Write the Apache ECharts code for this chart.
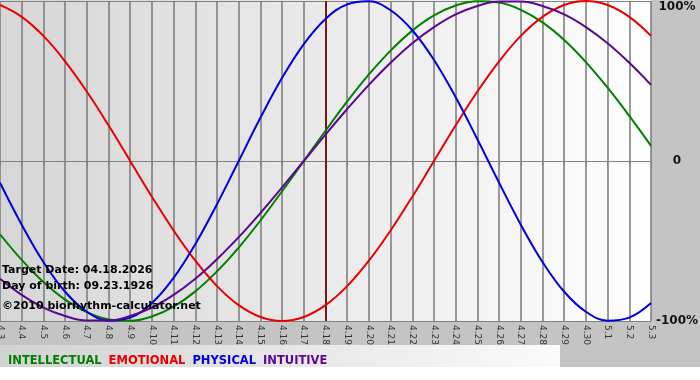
<!DOCTYPE html>
<html>
<head>
<meta charset="utf-8">
<script src="https://cdn.jsdelivr.net/npm/echarts@6/dist/echarts.min.js"></script>
<style>
html,body{margin:0;padding:0;background:#fff;}
#chart{width:700px;height:380px;}
</style>
</head>
<body>
<div id="chart"></div>
<script>
const days = ['4.3','4.4','4.5','4.6','4.7','4.8','4.9','4.10','4.11','4.12','4.13','4.14','4.15','4.16','4.17','4.18','4.19','4.20','4.21','4.22','4.23','4.24','4.25','4.26','4.27','4.28','4.29','4.30','5.1','5.2','5.3'];
const intellectual = [-0.458,-0.618,-0.756,-0.866,-0.945,-0.990,-0.999,-0.972,-0.910,-0.815,-0.690,-0.541,-0.372,-0.189,0,0.189,0.372,0.541,0.690,0.815,0.910,0.972,0.999,0.990,0.945,0.866,0.756,0.618,0.458,0.282,0.095];
const emotional = [0.975,0.901,0.782,0.623,0.434,0.223,0,-0.223,-0.434,-0.623,-0.782,-0.901,-0.975,-1.000,-0.975,-0.901,-0.782,-0.623,-0.434,-0.223,0,0.223,0.434,0.623,0.782,0.901,0.975,1.000,0.975,0.901,0.782];
const physical = [-0.136,-0.398,-0.631,-0.817,-0.942,-0.998,-0.979,-0.888,-0.731,-0.520,-0.270,0,0.270,0.520,0.731,0.888,0.979,0.998,0.942,0.817,0.631,0.398,0.136,-0.136,-0.398,-0.631,-0.817,-0.942,-0.998,-0.979,-0.888];
const intuitive = [-0.736,-0.837,-0.916,-0.969,-0.997,-0.997,-0.969,-0.916,-0.837,-0.736,-0.614,-0.476,-0.325,-0.165,0,0.165,0.325,0.476,0.614,0.736,0.837,0.916,0.969,0.997,0.997,0.969,0.916,0.837,0.736,0.614,0.476];
const targetDay = '4.18';
const yTicks = {'1':'100%','0':'0','-1':'-100%'};
const seriesNames = ['INTELLECTUAL','EMOTIONAL','PHYSICAL','INTUITIVE'];
const seriesColors = ['#008000','#e80000','#0000dd','#5a0890'];
const infoLines = ['Target Date: 04.18.2026','Day of birth: 09.23.1926','\u00a92010 biorhythm-calculator.net'];

const chart = echarts.init(document.getElementById('chart'), null, {renderer:'canvas'});
const FONT = '"DejaVu Sans", Verdana, sans-serif';
const dataArr = [intellectual, emotional, physical, intuitive];

const series = seriesNames.map((n, i) => ({
  name: n,
  type: 'line',
  data: dataArr[i],
  smooth: 0.4,
  smoothConstraint: false,
  symbol: 'none',
  lineStyle: {width: 2, color: seriesColors[i]},
  itemStyle: {color: seriesColors[i]},
  z: 3 + i
}));
series[0].markLine = {
  silent: true,
  symbol: 'none',
  label: {show: false},
  lineStyle: {color: '#7a1818', width: 2, type: 'solid'},
  data: [{xAxis: targetDay}],
  z: 2
};

chart.setOption({
  backgroundColor: '#c4c4c4',
  animation: false,
  grid: {left: 0, right: 49, top: 1, bottom: 59, containLabel: false, outerBoundsMode: 'none'},
  xAxis: {
    type: 'category',
    data: days,
    boundaryGap: false,
    axisLine: {show: true, lineStyle: {color: '#808080', width: 1}},
    axisTick: {show: true, alignWithLabel: true, length: 5, lineStyle: {color: '#808080'}},
    axisLabel: {rotate: -90, fontSize: 9, color: '#333', fontFamily: FONT, margin: 4, interval: 0, hideOverlap: false},
    splitLine: {show: true, lineStyle: {color: '#7a7a7a', width: 1.5}}
  },
  yAxis: {
    type: 'value',
    position: 'right',
    min: -1, max: 1, interval: 1,
    axisLine: {show: false},
    axisTick: {show: false},
    splitLine: {show: true, lineStyle: {color: '#808080', width: 1}},
    axisLabel: {
      margin: 26,
      align: 'center',
      fontFamily: FONT,
      fontWeight: 'bold',
      fontSize: 12,
      color: '#111',
      formatter: v => v === 1 ? '{top|' + yTicks['1'] + '}' : yTicks[String(v)],
      rich: {top: {fontFamily: FONT, fontWeight: 'bold', fontSize: 12, color: '#111', padding: [12, 0, 0, 0]}}
    }
  },
  legend: {
    left: 3,
    top: 355,
    icon: 'none',
    itemWidth: 0,
    itemHeight: 0,
    itemGap: 2,
    padding: 0,
    selectedMode: false,
    textStyle: {fontFamily: FONT, fontWeight: 'bold', fontSize: 11.5},
    data: seriesNames.map((n, i) => ({name: n, textStyle: {color: seriesColors[i]}}))
  },
  graphic: [
    {type: 'rect', z: -10, silent: true, shape: {x: 0, y: 0, width: 651, height: 321},
      style: {fill: new echarts.graphic.LinearGradient(0, 0, 1, 0, [{offset: 0, color: '#d6d6d6'}, {offset: 1, color: '#fefefe'}])}},
    {type: 'rect', z: -10, silent: true, shape: {x: 0, y: 345, width: 560, height: 35},
      style: {fill: new echarts.graphic.LinearGradient(0, 0, 1, 0, [{offset: 0, color: '#d2d2d2'}, {offset: 1, color: '#fafafa'}])}},
    {type: 'rect', z: -10, silent: true, shape: {x: 0, y: 367, width: 700, height: 13}, style: {fill: '#ffffff'}},
    ...infoLines.map((t, i) => ({
      type: 'text', z: 20, silent: true, left: 2, top: [265, 281, 301][i],
      style: {text: t, fontFamily: FONT, fontWeight: 'bold', fontSize: 11, fill: '#000'}
    }))
  ],
  series: series
});
</script>
</body>
</html>
